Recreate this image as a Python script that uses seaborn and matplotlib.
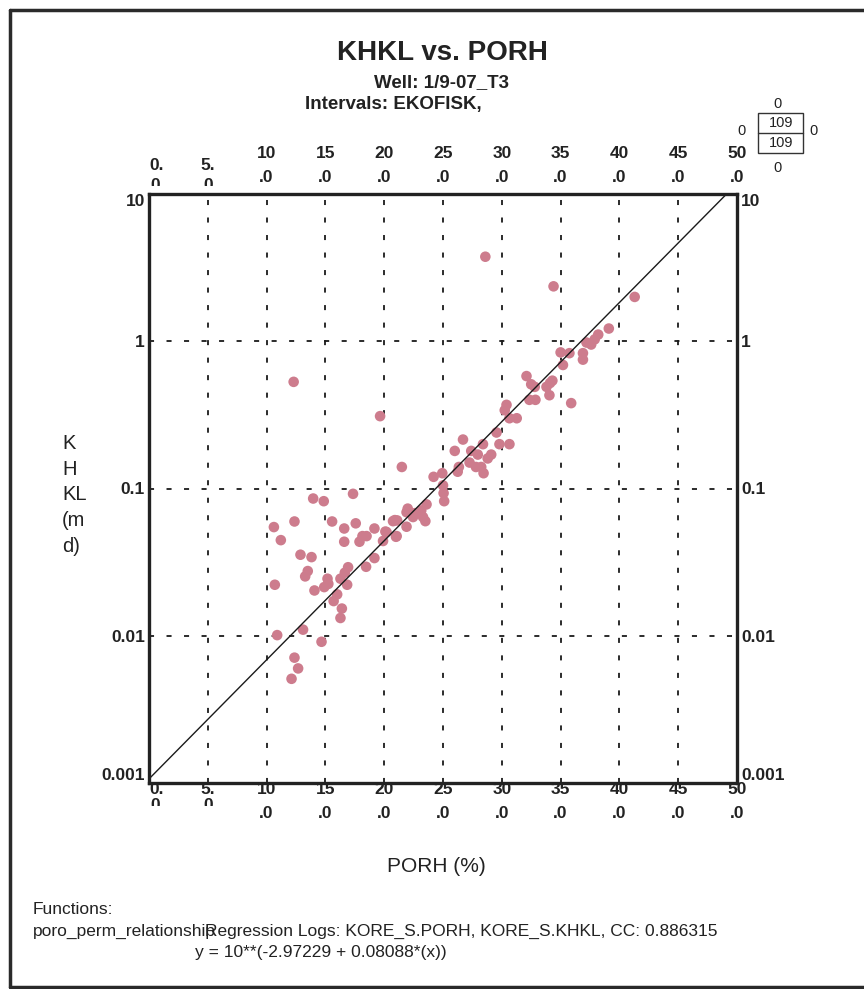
import numpy as np
import pandas as pd
import matplotlib
matplotlib.use("Agg")
import matplotlib.pyplot as plt
import seaborn as sns
from matplotlib.ticker import NullLocator, FixedLocator
from matplotlib.transforms import Bbox, TransformedBbox
from matplotlib.lines import Line2D

# Core plug measurements: horizontal porosity (%) and Klinkenberg permeability (mD)
porh = [
    28.6, 34.4, 41.3, 12.3, 19.65, 21.5,
    39.1, 38.2, 37.9, 37.6, 37.2, 36.9, 36.9, 35.75, 35.0, 35.2, 35.9,
    32.1, 32.5, 32.8, 33.8, 34.1, 34.3, 34.05, 32.35, 32.86,
    30.4, 30.25, 30.65, 31.27, 29.55, 29.8, 30.65,
    26.7, 26.0, 27.4, 28.4, 27.96, 28.8, 29.1, 27.26, 27.8, 28.25, 28.45,
    26.35, 26.25, 24.94, 24.2, 25.0, 25.05, 25.1,
    23.6, 23.15, 22.0, 22.45, 21.9, 23.3, 23.5, 20.9, 21.9, 20.1, 21.0,
    19.9, 22.6, 20.75, 21.1,
    13.96, 14.86, 17.35, 10.62, 12.37, 11.21, 15.57, 16.6, 17.58, 16.6,
    17.9, 18.15, 18.5, 19.17, 20.2, 21.06,
    12.88, 13.82, 13.5, 13.28, 10.7, 14.07, 14.9, 15.18, 15.25, 16.28,
    16.65, 16.93, 16.85, 16.0, 15.7, 16.4, 16.28, 18.46, 19.17,
    10.9, 13.1, 14.67, 12.37, 12.68, 12.12,
]
khkl = [
    3.75, 2.36, 2.0, 0.53, 0.31, 0.14,
    1.22, 1.11, 1.03, 0.95, 0.98, 0.83, 0.75, 0.83, 0.84, 0.69, 0.38,
    0.58, 0.51, 0.49, 0.49, 0.52, 0.54, 0.43, 0.40, 0.40,
    0.37, 0.34, 0.30, 0.30, 0.24, 0.20, 0.20,
    0.215, 0.18, 0.18, 0.20, 0.17, 0.16, 0.17, 0.15, 0.14, 0.14, 0.127,
    0.14, 0.13, 0.127, 0.12, 0.105, 0.093, 0.082,
    0.078, 0.071, 0.073, 0.064, 0.069, 0.064, 0.060, 0.061, 0.055, 0.051, 0.047,
    0.044, 0.068, 0.060, 0.0607,
    0.0855, 0.082, 0.092, 0.0547, 0.0597, 0.0446, 0.0597, 0.0535, 0.058, 0.0435,
    0.0435, 0.0475, 0.0475, 0.0535, 0.0506, 0.0475,
    0.0355, 0.0342, 0.0275, 0.0253, 0.0222, 0.0203, 0.0214, 0.0244, 0.0225, 0.0244,
    0.0268, 0.0292, 0.0222, 0.0191, 0.0172, 0.0153, 0.0132, 0.0294, 0.0337,
    0.0101, 0.011, 0.0091, 0.0071, 0.0060, 0.0051,
]

# Regression of log10(KHKL) on PORH
reg_intercept = -2.97229
reg_slope = 0.08088
reg_cc = 0.886315
n_points = 109

x_ticks = [0, 5, 10, 15, 20, 25, 30, 35, 40, 45, 50]
x_tick_top = ["0.", "5.", "10", "15", "20", "25", "30", "35", "40", "45", "50"]
x_tick_bottom = ["0", "0", ".0", ".0", ".0", ".0", ".0", ".0", ".0", ".0", ".0"]
y_ticks = [0.001, 0.01, 0.1, 1, 10]
y_tick_labels = ["0.001", "0.01", "0.1", "1", "10"]

sns.set_style("white")
plt.rcParams["font.family"] = ["Liberation Sans", "DejaVu Sans"]

W, H = 864, 989
fig = plt.figure(figsize=(W / 100, H / 100), dpi=100)


def fx(px):
    return px / W


def fy(py):
    return 1 - py / H


ax_l, ax_r, ax_t, ax_b = 149, 737, 194, 783
ax = fig.add_axes([fx(ax_l), fy(ax_b), fx(ax_r) - fx(ax_l), fy(ax_t) - fy(ax_b)])
ax.set_yscale("log")

df = pd.DataFrame({"PORH": porh, "KHKL": khkl})
sns.scatterplot(data=df, x="PORH", y="KHKL", ax=ax, color="#cd7c8d",
                s=58, edgecolor="none", linewidth=0, zorder=3)

reg_x = np.array([0.0, 50.0])
reg_df = pd.DataFrame({"PORH": reg_x, "KHKL": 10 ** (reg_intercept + reg_slope * reg_x)})
sns.lineplot(data=reg_df, x="PORH", y="KHKL", ax=ax, color="#1a1a1a",
             linewidth=1.0, zorder=4)

ax.set_xlim(0, 50)
ax.set_ylim(0.001, 10)
ax.set_xlabel("")
ax.set_ylabel("")

ax.xaxis.set_major_locator(FixedLocator(x_ticks))
ax.set_xticklabels([])
ax.yaxis.set_major_locator(FixedLocator(y_ticks))
ax.yaxis.set_minor_locator(NullLocator())
ax.set_yticklabels(y_tick_labels)
ax.tick_params(axis="x", length=0, labelbottom=False, labeltop=False)
ax.tick_params(axis="y", which="both", length=0, labelleft=True, labelright=True,
               labelsize=12.5, pad=3)
for tick in ax.yaxis.get_major_ticks():
    tick.label1.set_fontweight("bold")
    tick.label2.set_fontweight("bold")
    tick.label1.set_color("#222222")
    tick.label2.set_color("#222222")
ticks = ax.yaxis.get_major_ticks()
for lab in (ticks[-1].label1, ticks[-1].label2):
    lab.set_verticalalignment("top")
for lab in (ticks[0].label1, ticks[0].label2):
    lab.set_verticalalignment("bottom")

ax.grid(True, which="major", color="#1a1a1a", linewidth=1.3,
        linestyle=(0, (2.8, 6.9)))
for sp in ax.spines.values():
    sp.set_visible(True)
    sp.set_color("#222222")
    sp.set_linewidth(2.4)
    sp.set_zorder(5)

# Two-line tick labels along the top and bottom edges
lab_kw = dict(fontsize=12.5, fontweight="bold", color="#222222", ha="center")
for xv, t1, t2 in zip(x_ticks, x_tick_top, x_tick_bottom):
    px = ax_l + (ax_r - ax_l) * xv / 50
    ha1 = "left" if xv == 0 else "center"
    short = xv < 10
    # bottom edge
    fig.text(fx(px), fy(790), t1, va="center", **{**lab_kw, "ha": ha1})
    if short:
        t = fig.text(fx(px + (6 if xv == 0 else 0)), fy(798), t2, va="top", **lab_kw)
        t.set_clip_box(TransformedBbox(Bbox([[0, fy(806)], [1, 1]]), fig.transFigure))
        t.set_clip_on(True)
    else:
        fig.text(fx(px), fy(813), t2, va="center", **lab_kw)
    # top edge
    if short:
        fig.text(fx(px), fy(165), t1, va="center", **{**lab_kw, "ha": ha1})
        t = fig.text(fx(px + (6 if xv == 0 else 0)), fy(178), t2, va="top", **lab_kw)
        t.set_clip_box(TransformedBbox(Bbox([[0, fy(186)], [1, 1]]), fig.transFigure))
        t.set_clip_on(True)
    else:
        fig.text(fx(px), fy(154), t1, va="center", **lab_kw)
        fig.text(fx(px), fy(177), t2, va="center", **lab_kw)

# Titles
fig.text(fx(442), fy(53), "KHKL vs. PORH", ha="center", va="center",
         fontsize=20, fontweight="bold", color="#222222")
fig.text(fx(442), fy(83), "Well: 1/9-07_T3", ha="center", va="center",
         fontsize=13.5, fontweight="bold", color="#222222")
fig.text(fx(305), fy(104), "Intervals: EKOFISK,", ha="left", va="center",
         fontsize=13.5, fontweight="bold", color="#222222")

# Axis titles
fig.text(fx(62), fy(495), "K\nH\nKL\n(m\nd)", ha="left", va="center",
         fontsize=14.5, color="#222222", linespacing=1.45)
fig.text(fx(436), fy(866), "PORH (%)", ha="center", va="center",
         fontsize=15, color="#222222")

# Point count box
box_kw = dict(ha="center", va="center", fontsize=10.5, color="#222222")
fig.patches.append(plt.Rectangle((fx(758), fy(153)), fx(803) - fx(758), fy(113) - fy(153),
                                 transform=fig.transFigure, fill=False,
                                 edgecolor="#333333", linewidth=1.0))
fig.lines.append(Line2D([fx(758), fx(803)], [fy(133), fy(133)],
                        transform=fig.transFigure, color="#333333", linewidth=1.0))
fig.text(fx(781), fy(123), str(n_points), **box_kw)
fig.text(fx(781), fy(143), str(n_points), **box_kw)
fig.text(fx(777), fy(104), "0", **box_kw)
fig.text(fx(777), fy(168), "0", **box_kw)
fig.text(fx(742), fy(131), "0", **box_kw)
fig.text(fx(814), fy(131), "0", **box_kw)

# Function notes
note_kw = dict(ha="left", va="center", fontsize=12.5, color="#222222")
fig.text(fx(33), fy(910), "Functions:", **note_kw)
fig.text(fx(33), fy(931), "poro_perm_relationship", **note_kw)
fig.text(fx(205), fy(931),
         f"Regression Logs: KORE_S.PORH, KORE_S.KHKL, CC: {reg_cc}", **note_kw)
fig.text(fx(195), fy(952), f"y = 10**({reg_intercept} + {reg_slope}*(x))", **note_kw)

# Page frame
frame_kw = dict(transform=fig.transFigure, color="#2a2a2a", linewidth=2.5)
fig.lines.append(Line2D([fx(10), fx(10)], [fy(10), fy(987)], **frame_kw))
fig.lines.append(Line2D([fx(10), 1.0], [fy(10), fy(10)], **frame_kw))
fig.lines.append(Line2D([fx(10), 1.0], [fy(987), fy(987)], **frame_kw))

fig.savefig("out.png", dpi=100)
